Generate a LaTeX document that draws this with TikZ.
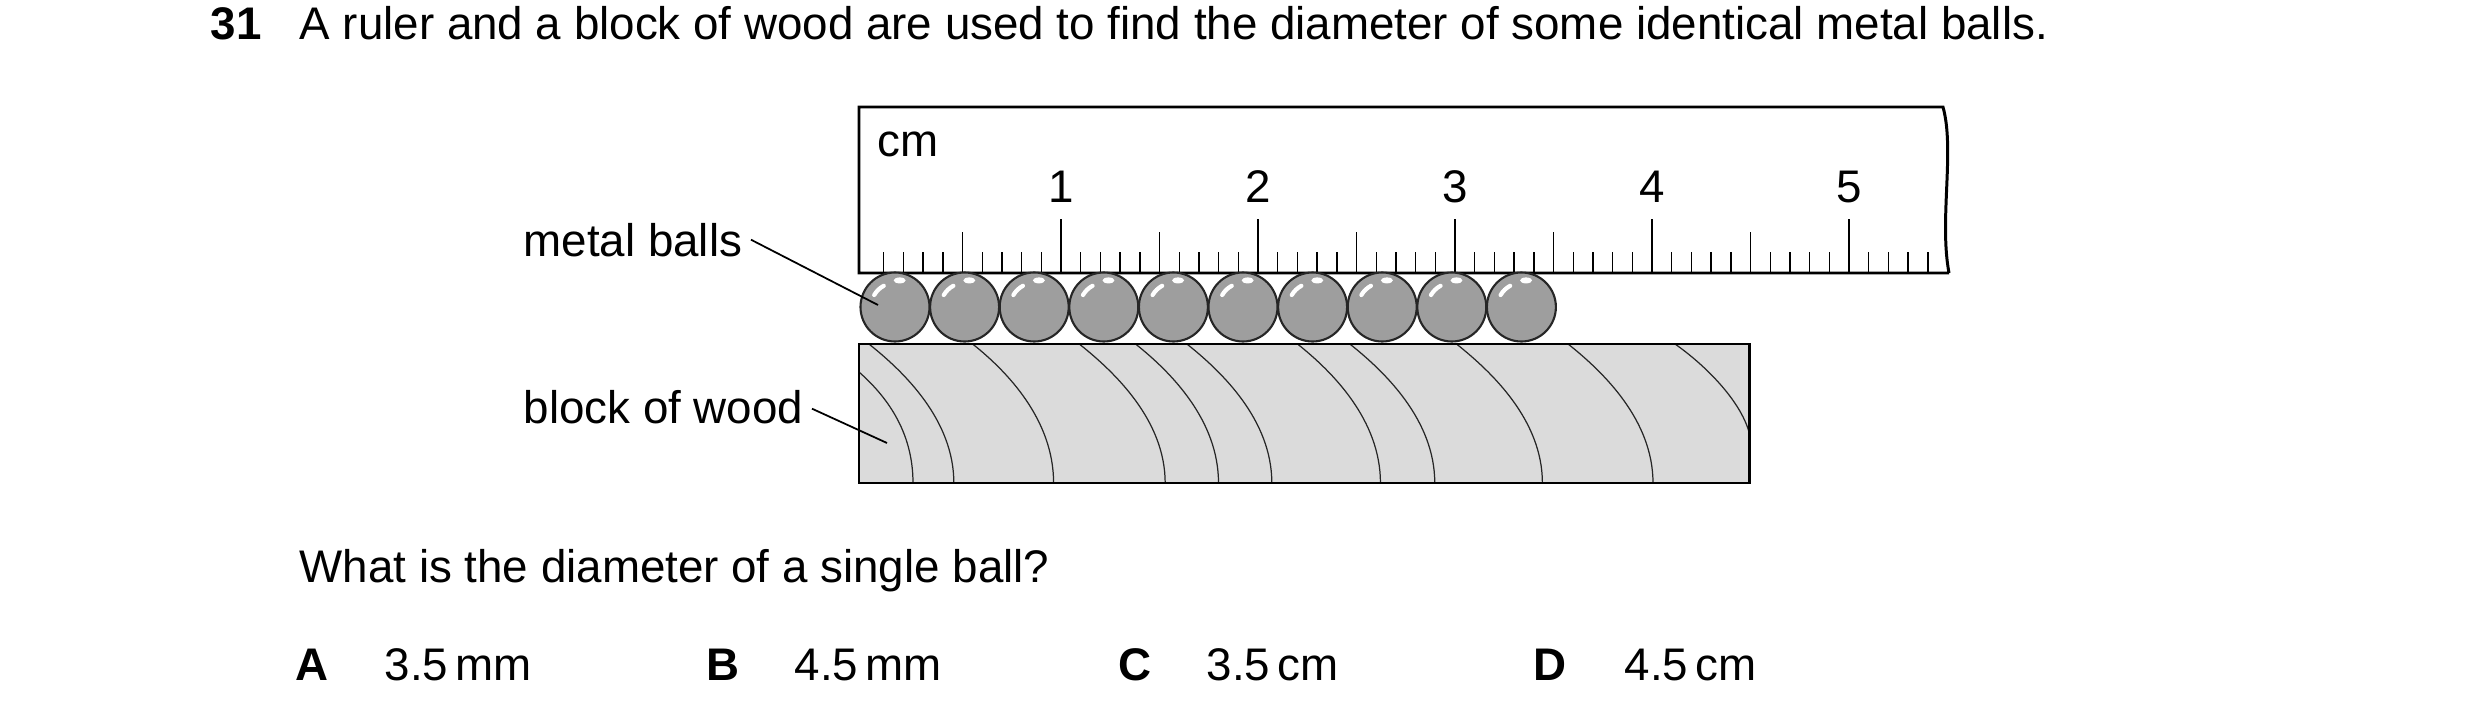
\documentclass[tikz,border=0pt]{standalone}
\usepackage{fontspec}
\setmainfont{Liberation Sans}
\begin{document}
\begin{tikzpicture}[x=0.01cm,y=0.01cm,
    txt/.style={inner sep=0pt,font=\fontsize{13}{15}\selectfont},
    ball/.style={draw=black!85,line width=0.6pt,fill=black!38},
    grain/.style={line width=0.35pt,black!85},
    tick/.style={line width=0.4pt}]
    \useasboundingbox (0,0) rectangle (2480,-721);

    % Question text
    \node[txt,anchor=base west] (num) at (210,-40) {\bfseries 31};
    \node[txt,anchor=base west] (qtext) at (299,-40) {A ruler and a block of wood are used to find the diameter of some identical metal balls.};

    % Block of wood
    \draw[fill=black!14,line width=0.85pt] (859,-344) rectangle (1749,-483);
    \draw[grain] (859,-372) .. controls (885,-395) and (913,-430) .. (913,-483);
    \foreach \s/\e in {870/956,975/1057,1083/1170,1140/1224,1192/1278,1304/1388,1357/1443,1465/1552,1578/1664}
        \draw[grain] ({\s*0.9875+9.8},-344) .. controls ({\s*0.9875+45},-372) and ({\e*0.9875+9.8},-420) .. ({\e*0.9875+9.8},-483);
    \draw[grain] (1675,-344) .. controls (1705,-365) and (1740,-400) .. (1749,-432);
    \draw[line width=0.85pt] (859,-344) rectangle (1749,-483);

    % Ruler
    \draw[fill=white,line width=0.85pt] (1949,-273) -- (859,-273) -- (859,-107) -- (1943,-107)
        .. controls (1955,-150) and (1939,-220) .. (1949,-273);
    \foreach \k in {1,...,54}{
        \pgfmathsetmacro{\len}{ifthenelse(mod(\k,10)==0,54,ifthenelse(mod(\k,5)==0,41,21))}
        \draw[tick] (864+19.7*\k,-273) -- ++(0,\len);
    }
    \foreach \n in {1,...,5}
        \node[txt] (mark\n) at (864+197*\n,-187) {\n};
    \node[txt,anchor=west] (unit) at (877,-144) {cm};

    % Metal balls
    \foreach \i in {0,...,9}{
        \coordinate (c\i) at (895+69.6*\i,-307);
        \draw[ball] (c\i) circle (34.5);
        \draw[white,line width=1.2pt,line cap=round] ([shift={(c\i)}]150:24) arc (150:118:24);
        \fill[white] ([shift={(c\i)}]80:27) ellipse (6 and 3);
    }

    % Labels
    \node[txt,anchor=base west] (lblballs) at (523,-256) {metal balls};
    \coordinate (ptballs) at (878,-305);
    \draw[line width=0.5pt] (lblballs.east) ++(8,0) -- (ptballs);
    \node[txt,anchor=base west] (lblwood) at (523,-423) {block of wood};
    \coordinate (ptwood) at (887,-443);
    \draw[line width=0.5pt] (lblwood.east) ++(8,-2) -- (ptwood);

    % Question and options
    \node[txt,anchor=base west] (ask) at (299,-582) {What is the diameter of a single ball?};
    \node[txt,anchor=base west] (optA) at (295,-680) {\bfseries A};
    \node[txt,anchor=base west] (ansA) at (384,-680) {3.5\,mm};
    \node[txt,anchor=base west] (optB) at (706,-680) {\bfseries B};
    \node[txt,anchor=base west] (ansB) at (794,-680) {4.5\,mm};
    \node[txt,anchor=base west] (optC) at (1118,-680) {\bfseries C};
    \node[txt,anchor=base west] (ansC) at (1206,-680) {3.5\,cm};
    \node[txt,anchor=base west] (optD) at (1533,-680) {\bfseries D};
    \node[txt,anchor=base west] (ansD) at (1624,-680) {4.5\,cm};
\end{tikzpicture}
\end{document}
